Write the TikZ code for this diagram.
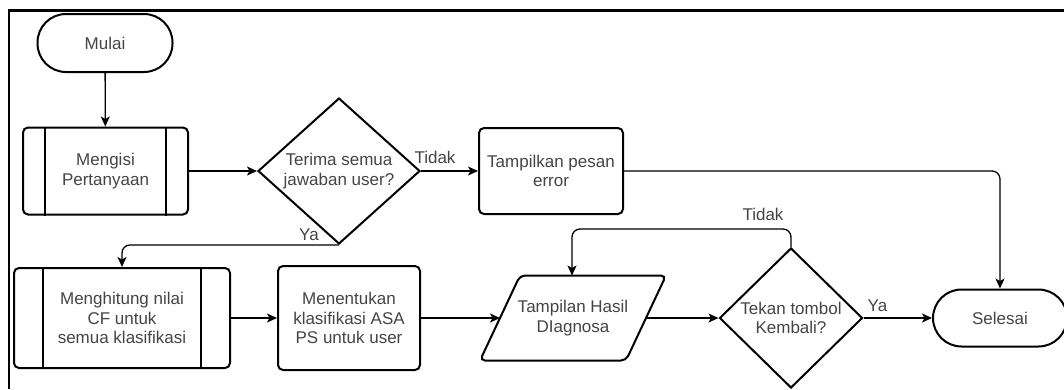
\documentclass[tikz,border=0pt]{standalone}
\usepackage{fontspec}
\setmainfont{Liberation Sans}
\usetikzlibrary{shapes.geometric,arrows.meta,calc}
\definecolor{txt}{HTML}{444444}
\begin{document}
\begin{tikzpicture}[x=1pt,y=-1pt,
  every node/.style={font=\fontsize{17}{19.5}\selectfont, text=txt, align=center},
  shapeline/.style={line width=2pt, draw=black},
  terminal/.style={shapeline, rectangle, rounded corners=28.5pt, minimum width=135pt, minimum height=58pt, inner sep=0pt},
  procbox/.style={shapeline, rectangle, rounded corners=5pt, inner sep=0pt},
  decision/.style={shapeline, diamond, inner sep=0pt},
  conn/.style={line width=1.3pt, draw=black, rounded corners=8pt,
    -{Stealth[length=10pt,width=9pt,inset=2.5pt]}},
  lbl/.style={inner sep=0pt}
]
\useasboundingbox (0,0) rectangle (1064,389);

% frame
\draw[line width=2.5pt] (9,389) -- (9,10.3) -- (1064,10.3);

% row one
\node[terminal] (mulai) at (105,43) {Mulai};
\node[procbox, minimum width=165pt, minimum height=87pt] (isi) at (105.5,171) {Mengisi\\Pertanyaan};
\draw[shapeline] ([xshift=23pt]isi.north west) -- ([xshift=23pt]isi.south west);
\draw[shapeline] ([xshift=-23pt]isi.north east) -- ([xshift=-23pt]isi.south east);
\node[decision, minimum width=162pt, minimum height=143pt] (cek) at (339,171) {Terima semua\\jawaban user?};
\node[procbox, minimum width=144pt, minimum height=86pt] (err) at (551,171) {Tampilkan pesan\\error};

% row two
\node[procbox, minimum width=216pt, minimum height=100pt] (hitung) at (122,318) {Menghitung nilai\\CF untuk\\semua klasifikasi};
\draw[shapeline] ([xshift=30pt]hitung.north west) -- ([xshift=30pt]hitung.south west);
\draw[shapeline] ([xshift=-30pt]hitung.north east) -- ([xshift=-30pt]hitung.south east);
\node[procbox, minimum width=142pt, minimum height=104pt] (tentu) at (349,318) {Menentukan\\klasifikasi ASA\\PS untuk user};

% input/output parallelogram, drawn around its text node
\node[inner sep=0pt] (hasil) at (573,318) {Tampilan Hasil\\DIagnosa};
\draw[shapeline, rounded corners=5pt]
  ($(hasil.center)+(-93,42.5)$) -- ($(hasil.center)+(-53,-42.5)$) --
  ($(hasil.center)+(93,-42.5)$) -- ($(hasil.center)+(53,42.5)$) -- cycle;
\coordinate (hasil-w) at ($(hasil.center)+(-73,0)$);
\coordinate (hasil-e) at ($(hasil.center)+(73,0)$);
\coordinate (hasil-n) at ($(hasil.center)+(-1,-42.5)$);

\node[decision, minimum width=143pt, minimum height=140pt] (kembali) at (791,318) {Tekan tombol\\Kembali?};
\node[terminal, minimum width=134pt, minimum height=57pt] (selesai) at (1000,318) {Selesai};

% connectors
\draw[conn] (mulai) -- (isi);
\draw[conn] (isi) -- (cek);
\draw[conn] (cek) -- (err);
\node[lbl] at ($(cek.east)+(14,-14)$) {Tidak};
\draw[conn] (cek.south) -| (hitung.north);
\node[lbl] at ($(cek.south)+(-30,-10)$) {Ya};
\draw[conn] (err.east) -| (selesai.north);
\draw[conn] (hitung) -- (tentu);
\draw[conn] (tentu) -- (hasil-w);
\draw[conn] (hasil-e) -- (kembali);
\draw[conn] (kembali) -- (selesai);
\node[lbl] at ($(kembali.east)+(14,-12)$) {Ya};
\coordinate (balik) at ($(kembali.north)+(0,-18)$);
\draw[conn] (kembali.north) -- (balik) -| (hasil-n);
\node[lbl] at ($(kembali.north)+(-28,-33)$) {Tidak};
\end{tikzpicture}
\end{document}
